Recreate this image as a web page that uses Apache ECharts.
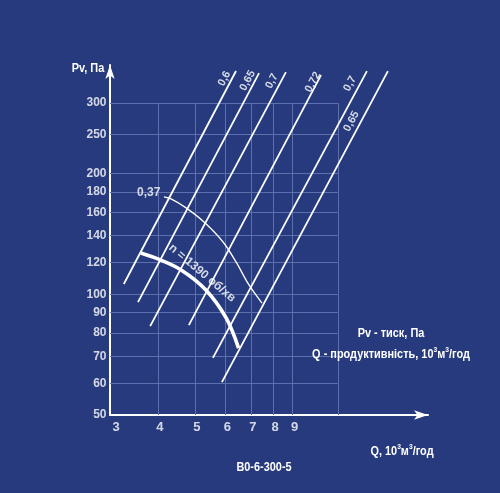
<!DOCTYPE html>
<html><head><meta charset="utf-8">
<script src="https://cdn.jsdelivr.net/npm/echarts@6/dist/echarts.min.js"></script>
<style>html,body{margin:0;padding:0;background:#263a7d;}#c{width:500px;height:493px;}</style>
</head><body><div id="c"></div>
<script>
// ---- data ----
const xTicks = [3, 4, 5, 6, 7, 8, 9];
const yTicks = [50, 60, 70, 80, 90, 100, 120, 140, 160, 180, 200, 250, 300];
const gridMaxQ = 11.8;
const gridMaxP = 300;
const effNames = ['0,6', '0,65', '0,7', '0,72', '0,7', '0,65'];
const effLines = [
  [[3.26, 106.1], [6.40, 360.4]],
  [[3.55, 95.6], [7.35, 356]],
  [[3.82, 83.3], [8.64, 358]],
  [[4.82, 83.8], [10.67, 352]],
  [[5.57, 69.4], [14.06, 360]],
  [[5.88, 60.4], [15.95, 360]]
];
const effLabelAt = [[5.97, 345], [6.86, 341], [7.94, 340], [10.16, 338], [12.70, 335], [12.81, 270]];
const speedCurve = [[3.61, 126.7], [4.00, 122.5], [4.60, 115.0], [5.34, 102.5], [6.03, 87.3], [6.50, 73.4]];
const curve037 = [[4.15, 174.9], [4.33, 172.9], [4.74, 164.2], [5.28, 151.4], [5.92, 135], [6.40, 120.4], [6.92, 105.5], [7.48, 95.1]];
const speedLabel = 'n = 1390 об/хв';
const speedLabelAt = [5.22, 113];
const curve037Label = '0,37';

// ---- chart ----
const FONT = "'Liberation Sans',Arial,sans-serif";
const WHITE = '#ffffff';
const GRIDC = '#5d70ad';

const gridSegs = [];
xTicks.slice(1).concat([gridMaxQ]).forEach(q => gridSegs.push({coords: [[q, yTicks[0]], [q, gridMaxP]]}));
yTicks.slice(1).forEach(p => gridSegs.push({coords: [[xTicks[0], p], [gridMaxQ, p]]}));

const series = [];
series.push({
  type: 'lines', coordinateSystem: 'cartesian2d', silent: true, z: 1,
  lineStyle: {color: GRIDC, width: 1, opacity: 1},
  data: gridSegs
});
effLines.forEach((seg, i) => {
  series.push({
    type: 'line', data: seg, symbol: 'none', clip: false, silent: true, z: 3,
    lineStyle: {color: WHITE, width: 1.8}
  });
});
series.push({
  type: 'line', data: speedCurve, symbol: 'none', smooth: 0.35, clip: false, silent: true, z: 4,
  lineStyle: {color: WHITE, width: 3.6}
});
series.push({
  type: 'line', data: curve037, symbol: 'none', smooth: 0.35, clip: false, silent: true, z: 4,
  lineStyle: {color: WHITE, width: 1.3}
});
const txt = {color: WHITE, fontFamily: FONT, fontWeight: 'bold', fontSize: 12};
// efficiency labels
series.push({
  type: 'scatter', symbolSize: 1, itemStyle: {color: 'transparent'}, silent: true, z: 5, clip: false,
  data: effLabelAt.map((p, i) => ({value: p, name: effNames[i]})),
  label: Object.assign({show: true, position: 'inside', rotate: 62, formatter: p => p.name}, txt, {fontSize: 11})
});
// speed label + 0,37 label
series.push({
  type: 'scatter', symbolSize: 1, itemStyle: {color: 'transparent'}, silent: true, z: 5, clip: false,
  data: [{value: speedLabelAt, name: speedLabel, label: {rotate: -40, position: 'inside'}},
         {value: curve037[0], name: curve037Label, label: {position: 'left', distance: 3, offset: [0, -4]}}],
  label: Object.assign({show: true, formatter: p => p.name}, txt)
});
// tick labels
series.push({
  type: 'scatter', symbolSize: 1, itemStyle: {color: 'transparent'}, silent: true, z: 5, clip: false,
  data: xTicks.map((q, i) => ({value: [q, yTicks[0]], label: i === 0 ? {offset: [6, 0]} : undefined})),
  label: Object.assign({show: true, position: 'bottom', distance: 5, offset: [2, 0], formatter: p => String(p.value[0])}, txt, {fontSize: 13})
});
series.push({
  type: 'scatter', symbolSize: 1, itemStyle: {color: 'transparent'}, silent: true, z: 5, clip: false,
  data: yTicks.map(p => [xTicks[0], p]),
  label: Object.assign({show: true, position: 'left', distance: 3, formatter: p => String(p.value[1])}, txt, {fontSize: 12})
});

const sup = {fontSize: 8, fontFamily: FONT, fontWeight: 'bold', color: WHITE, verticalAlign: 'top', lineHeight: 8};
const base = {fontSize: 13, fontFamily: FONT, fontWeight: 'bold', color: WHITE, lineHeight: 16};
function gtext(x, y, text, rich) {
  return {type: 'text', x: x, y: y, silent: true, z: 10, scaleX: 0.84,
    style: {text: text, fill: WHITE, font: "bold 13px " + FONT, align: 'center', verticalAlign: 'middle',
      rich: rich ? {b: base, s: sup} : undefined}};
}

const chart = echarts.init(document.getElementById('c'), null, {renderer: 'canvas'});
chart.setOption({
  animation: false,
  backgroundColor: '#263a7d',
  grid: {left: 110, right: 72, top: 65, bottom: 78, containLabel: false},
  xAxis: {
    type: 'log', logBase: 10, min: 3, max: 20.3,
    axisLine: {show: true, symbol: ['none', 'arrow'], symbolSize: [7, 14], lineStyle: {color: WHITE, width: 2}},
    axisTick: {show: false}, axisLabel: {show: false}, splitLine: {show: false}, minorSplitLine: {show: false}
  },
  yAxis: {
    type: 'log', logBase: 10, min: 50, max: 373,
    axisLine: {show: true, symbol: ['none', 'arrow'], symbolSize: [7, 14], lineStyle: {color: WHITE, width: 2}},
    axisTick: {show: false}, axisLabel: {show: false}, splitLine: {show: false}, minorSplitLine: {show: false}
  },
  series: series,
  graphic: [
    gtext(88, 68, 'Pv, Па'),
    gtext(391, 333, 'Pv - тиск, Па'),
    gtext(391, 354, '{b|Q - продуктивність, 10}{s|3}{b|м}{s|3}{b|/год}', true),
    gtext(402, 451, '{b|Q, 10}{s|3}{b|м}{s|3}{b|/год}', true),
    gtext(264, 467, 'В0-6-300-5')
  ]
});
</script></body></html>
